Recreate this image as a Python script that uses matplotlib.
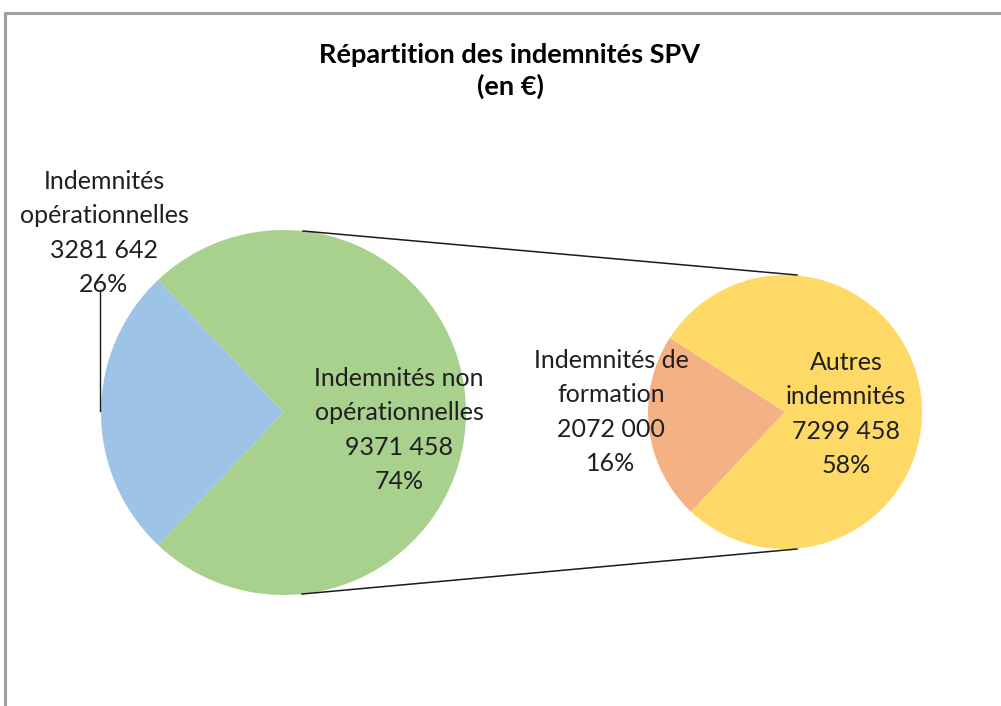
import matplotlib
matplotlib.use("Agg")
import matplotlib.pyplot as plt
from matplotlib.patches import Rectangle

# ---- data ----
main_labels = ["Indemnités\nopérationnelles", "Indemnités non\nopérationnelles"]
main_values = [3281642, 9371458]
sub_labels = ["Indemnités de\nformation", "Autres\nindemnités"]
sub_values = [2072000, 7299458]
title = "Répartition des indemnités SPV\n(en €)"

main_colors = ["#9DC3E6", "#A9D18E"]
sub_colors = ["#F4B183", "#FFD966"]

W, H = 1001, 706
fig = plt.figure(figsize=(W / 100, H / 100), dpi=100)
ax = fig.add_axes([0, 0, 1, 1])

total = sum(main_values)


def fmt(v):
    return f"{v // 1000} {v % 1000:03d}"


def Y(y):
    return H - y


# left pie
lcx, lcy, lr = 283.5, 412.5, 182.5
blue_span = 360 * main_values[0] / total
ax.pie(main_values, colors=main_colors, startangle=180 - blue_span / 2,
       center=(lcx, Y(lcy)), radius=lr, frame=True,
       wedgeprops=dict(linewidth=0))

# right pie
rcx, rcy, rr = 785, 412, 137
sub_total = sum(sub_values)
orange_span = 360 * sub_values[0] / sub_total
ax.pie(sub_values, colors=sub_colors, startangle=187 - orange_span / 2,
       center=(rcx, Y(rcy)), radius=rr, frame=True,
       wedgeprops=dict(linewidth=0))

# connector lines
ax.plot([303, 797], [Y(231), Y(275)], color="#1a1a1a", lw=1.1)
ax.plot([302, 797], [Y(594), Y(549)], color="#1a1a1a", lw=1.1)
# leader line
ax.plot([100, 100], [Y(290), Y(411)], color="#1a1a1a", lw=1.0)

font = "Lato"
tc = "#1f1f1f"
fs = 18
ls = 1.58

def label(x, y, name, v):
    pct = round(100 * v / total)
    ax.text(x, Y(y), f"{name}\n{fmt(v)}\n{pct}%", ha="center", va="center",
            fontsize=fs, family=font, color=tc, linespacing=ls)

label(104, 233, main_labels[0], main_values[0])
label(399, 430, main_labels[1], main_values[1])
label(611, 412, sub_labels[0], sub_values[0])
label(846, 414, sub_labels[1], sub_values[1])

ax.text(510, Y(71), title, ha="center", va="center", fontsize=19.5,
        family=font, fontweight="bold", color="#000000", linespacing=1.35)

# chart border
ax.add_patch(Rectangle((5, Y(1000)), 1100, 1000 - 13, fill=False,
                       edgecolor="#A0A0A0", lw=2.2))

ax.set_xlim(0, W)
ax.set_ylim(0, H)
ax.set_aspect("auto")
ax.axis("off")

fig.savefig("out.png", dpi=100)
